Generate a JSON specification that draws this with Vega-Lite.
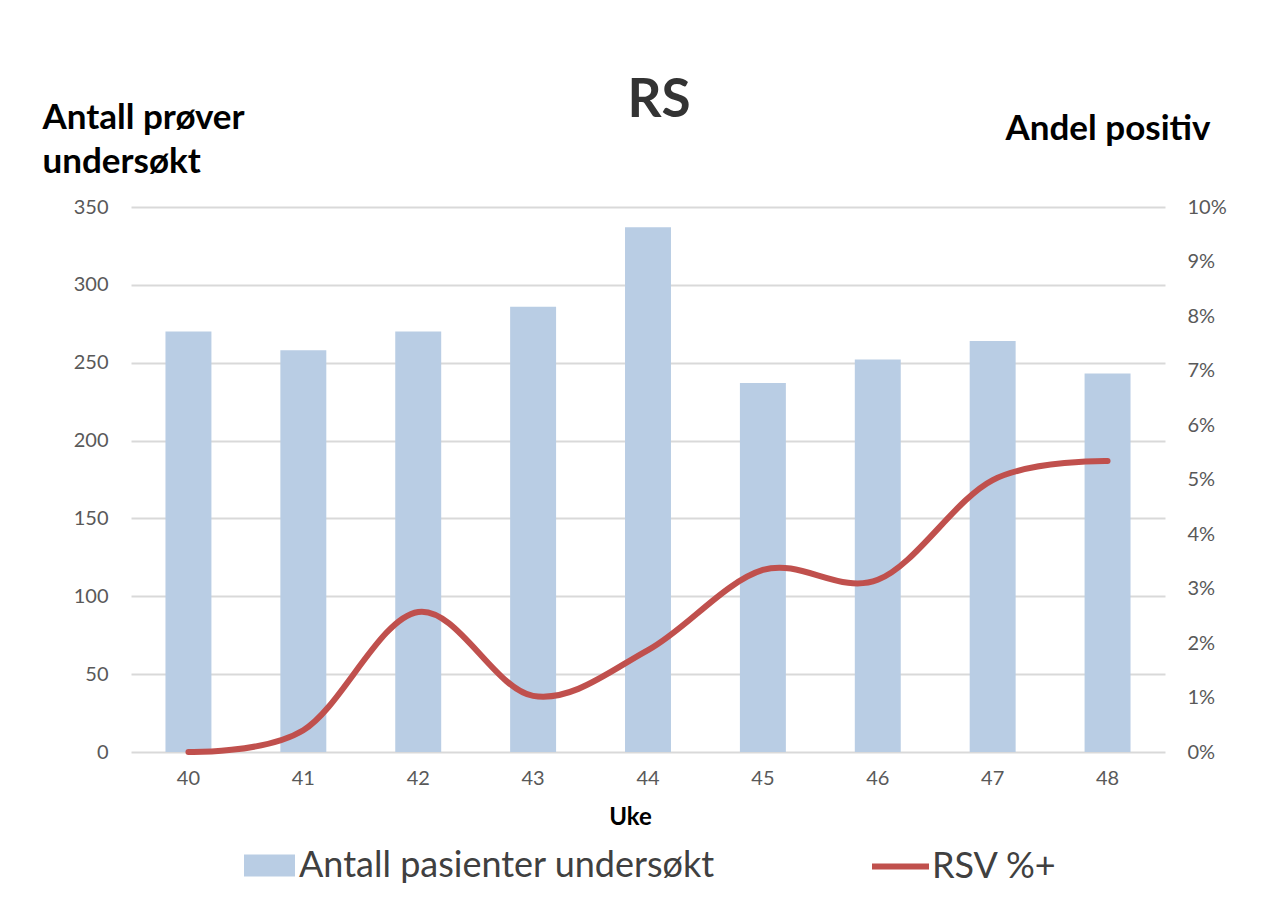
{
  "$schema": "https://vega.github.io/schema/vega-lite/v6.json",
  "width": 1034,
  "height": 545,
  "autosize": "none",
  "padding": {"left": 131, "top": 207, "right": 106, "bottom": 165},
  "background": "white",
  "config": {
    "font": "Lato",
    "view": {"stroke": null},
    "legend": {"padding": 0}
  },
  "title": {
    "text": "RS",
    "fontSize": 53,
    "fontWeight": "bold",
    "color": "#333333",
    "anchor": "middle",
    "frame": "group",
    "dx": 11,
    "dy": 80,
    "baseline": "alphabetic",
    "offset": 10
  },
  "data": {
    "values": [
      {"week": "40", "antall": 270, "rsv": 0.0},
      {"week": "41", "antall": 258, "rsv": 0.004},
      {"week": "42", "antall": 270, "rsv": 0.0257},
      {"week": "43", "antall": 286, "rsv": 0.0103},
      {"week": "44", "antall": 337, "rsv": 0.0187},
      {"week": "45", "antall": 237, "rsv": 0.0334},
      {"week": "46", "antall": 252, "rsv": 0.0316},
      {"week": "47", "antall": 264, "rsv": 0.0499},
      {"week": "48", "antall": 243, "rsv": 0.0534}
    ]
  },
  "encoding": {
    "x": {
      "field": "week",
      "type": "ordinal",
      "scale": {"paddingInner": 0.6, "paddingOuter": 0.3},
      "axis": {
        "domain": false,
        "ticks": false,
        "labelAngle": 0,
        "labelPadding": 16,
        "labelFontSize": 20,
        "labelColor": "#595959",
        "title": "Uke",
        "titleFontSize": 24,
        "titleFontWeight": "bold",
        "titleColor": "#000000",
        "titleX": 499,
        "titleY": 72,
        "titleAlign": "center",
        "titleBaseline": "alphabetic"
      }
    }
  },
  "layer": [
    {
      "mark": {"type": "bar", "color": "#b9cde4"},
      "encoding": {
        "y": {
          "field": "antall",
          "type": "quantitative",
          "scale": {"domain": [0, 350], "nice": false},
          "axis": {
            "orient": "left",
            "values": [0, 50, 100, 150, 200, 250, 300, 350],
            "grid": true,
            "gridColor": "#d9d9d9",
            "gridWidth": 2,
            "domain": false,
            "ticks": false,
            "labelFontSize": 20,
            "labelColor": "#595959",
            "labelPadding": 23,
            "title": ["Antall prøver", "undersøkt"],
            "titleAngle": 0,
            "titleX": -89,
            "titleY": -79,
            "titleAlign": "left",
            "titleBaseline": "alphabetic",
            "titleFontSize": 35,
            "titleFontWeight": "bold",
            "titleLineHeight": 44,
            "titleColor": "#000000"
          }
        },
        "fill": {
          "datum": "Antall pasienter undersøkt",
          "type": "nominal",
          "scale": {"domain": ["Antall pasienter undersøkt"], "range": ["#b9cde4"]},
          "legend": {
            "title": null,
            "orient": "none",
            "legendX": 113,
            "legendY": 633,
            "symbolType": "M-1,-0.43H1V0.43H-1Z",
            "symbolSize": 2601,
            "symbolStrokeWidth": 0,
            "labelFontSize": 36,
            "labelLimit": 800,
            "labelColor": "#404040",
            "labelOffset": 4
          }
        }
      }
    },
    {
      "mark": {"type": "line", "interpolate": "cardinal", "strokeWidth": 6, "strokeCap": "round", "strokeJoin": "round"},
      "encoding": {
        "y": {
          "field": "rsv",
          "type": "quantitative",
          "scale": {"domain": [0, 0.1], "nice": false},
          "axis": {
            "orient": "right",
            "values": [0, 0.01, 0.02, 0.03, 0.04, 0.05, 0.06, 0.07, 0.08, 0.09, 0.1],
            "format": ".0%",
            "grid": false,
            "domain": false,
            "ticks": false,
            "labelFontSize": 20,
            "labelColor": "#595959",
            "labelPadding": 22,
            "title": "Andel positiv",
            "titleAngle": 0,
            "titleX": -160,
            "titleY": -68,
            "titleAlign": "left",
            "titleBaseline": "alphabetic",
            "titleFontSize": 35,
            "titleFontWeight": "bold",
            "titleColor": "#000000"
          }
        },
        "stroke": {
          "datum": "RSV %+",
          "type": "nominal",
          "scale": {"domain": ["RSV %+"], "range": ["#c0504d"]},
          "legend": {
            "title": null,
            "orient": "none",
            "legendX": 738,
            "legendY": 628,
            "symbolType": "stroke",
            "symbolSize": 3249,
            "symbolStrokeWidth": 6,
            "labelFontSize": 36,
            "labelLimit": 400,
            "labelColor": "#404040",
            "labelOffset": 0
          }
        }
      }
    }
  ],
  "resolve": {"scale": {"y": "independent"}}
}
